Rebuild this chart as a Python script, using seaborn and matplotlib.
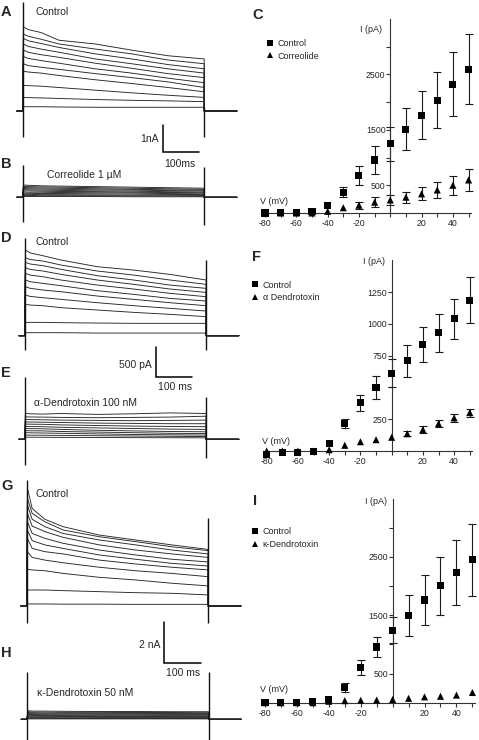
import pandas as pd
import matplotlib.pyplot as plt
import seaborn as sns
from matplotlib.lines import Line2D

W, H = 479, 740

# sample times (ms) of each current sweep during the 500 ms step
t_samples = [2, 15, 50, 100, 200, 300, 400, 500]
pulse_end = 500

# A: control sweeps (nA)
traces_A = [
    [3.15, 3.05, 2.94, 2.65, 2.51, 2.28, 2.07, 1.95],
    [2.88, 2.80, 2.69, 2.51, 2.32, 2.14, 1.91, 1.77],
    [2.72, 2.63, 2.53, 2.38, 2.14, 1.95, 1.74, 1.58],
    [2.51, 2.42, 2.32, 2.20, 1.95, 1.77, 1.58, 1.42],
    [2.28, 2.20, 2.11, 2.01, 1.79, 1.60, 1.40, 1.25],
    [2.04, 1.97, 1.89, 1.79, 1.58, 1.42, 1.23, 1.06],
    [1.77, 1.70, 1.64, 1.56, 1.40, 1.25, 1.09, 0.88],
    [1.49, 1.46, 1.42, 1.33, 1.17, 1.03, 0.88, 0.72],
    [0.96, 0.95, 0.93, 0.88, 0.78, 0.68, 0.59, 0.51],
    [0.51, 0.50, 0.49, 0.47, 0.43, 0.40, 0.38, 0.35],
    [0.16, 0.16, 0.16, 0.15, 0.14, 0.14, 0.14, 0.14],
]
# B: correolide sweeps (nA)
traces_B = [
    [0.46, 0.45, 0.43, 0.42, 0.40, 0.38, 0.36, 0.34],
    [0.41, 0.40, 0.39, 0.38, 0.36, 0.34, 0.32, 0.30],
    [0.37, 0.36, 0.35, 0.34, 0.32, 0.30, 0.28, 0.27],
    [0.33, 0.32, 0.31, 0.30, 0.28, 0.27, 0.25, 0.24],
    [0.29, 0.28, 0.27, 0.26, 0.24, 0.23, 0.21, 0.20],
    [0.24, 0.24, 0.23, 0.22, 0.21, 0.19, 0.18, 0.17],
    [0.20, 0.19, 0.19, 0.18, 0.17, 0.16, 0.14, 0.13],
    [0.15, 0.15, 0.14, 0.14, 0.13, 0.12, 0.11, 0.10],
    [0.11, 0.11, 0.10, 0.10, 0.09, 0.08, 0.08, 0.07],
    [0.07, 0.07, 0.06, 0.06, 0.06, 0.05, 0.05, 0.04],
    [0.03, 0.03, 0.03, 0.03, 0.03, 0.02, 0.02, 0.02],
]
# D: control sweeps (pA)
traces_D = [
    [1428, 1380, 1333, 1261, 1150, 1094, 1022, 928],
    [1300, 1270, 1244, 1178, 1078, 1011, 928, 856],
    [1222, 1195, 1167, 1106, 1000, 928, 844, 789],
    [1133, 1105, 1078, 1022, 928, 856, 778, 722],
    [1039, 1010, 983, 928, 844, 778, 706, 650],
    [928, 900, 872, 833, 750, 689, 622, 578],
    [817, 790, 761, 733, 661, 606, 550, 500],
    [678, 655, 633, 606, 550, 500, 456, 411],
    [522, 511, 500, 467, 428, 389, 356, 317],
    [222, 222, 222, 217, 211, 206, 206, 206],
    [50, 50, 50, 50, 44, 44, 44, 44],
]
# E: alpha-dendrotoxin sweeps (pA)
traces_E = [
    [430, 425, 420, 430, 415, 425, 440, 430],
    [375, 372, 370, 365, 360, 365, 370, 385],
    [330, 328, 325, 320, 315, 310, 315, 320],
    [290, 288, 285, 280, 270, 265, 260, 260],
    [255, 252, 250, 240, 230, 220, 215, 210],
    [215, 212, 210, 200, 190, 180, 170, 165],
    [180, 178, 175, 165, 150, 140, 130, 125],
    [145, 142, 140, 130, 120, 110, 100, 95],
    [110, 108, 105, 100, 90, 80, 75, 70],
    [70, 69, 68, 65, 60, 55, 50, 45],
    [35, 35, 34, 32, 30, 28, 26, 25],
]
# G: control sweeps (nA)
traces_G = [
    [5.74, 4.76, 4.23, 3.87, 3.46, 3.22, 2.98, 2.76],
    [5.25, 4.52, 4.11, 3.71, 3.38, 3.14, 2.89, 2.70],
    [4.93, 4.23, 3.87, 3.54, 3.22, 2.98, 2.73, 2.54],
    [4.52, 3.90, 3.63, 3.35, 2.98, 2.73, 2.54, 2.37],
    [4.11, 3.54, 3.30, 3.06, 2.73, 2.49, 2.28, 2.15],
    [3.71, 3.19, 2.98, 2.81, 2.49, 2.28, 2.08, 1.95],
    [3.30, 2.81, 2.65, 2.54, 2.24, 2.05, 1.89, 1.76],
    [2.65, 2.37, 2.24, 2.11, 1.89, 1.72, 1.59, 1.43],
    [1.79, 1.76, 1.72, 1.59, 1.40, 1.27, 1.11, 0.98],
    [0.78, 0.78, 0.78, 0.75, 0.70, 0.65, 0.62, 0.54],
    [0.10, 0.10, 0.10, 0.09, 0.09, 0.08, 0.08, 0.08],
]
# H: kappa-dendrotoxin sweeps (nA)
traces_H = [
    [0.42, 0.40, 0.40, 0.39, 0.38, 0.38, 0.37, 0.37],
    [0.37, 0.35, 0.35, 0.34, 0.34, 0.33, 0.33, 0.32],
    [0.33, 0.31, 0.30, 0.30, 0.29, 0.29, 0.28, 0.28],
    [0.28, 0.27, 0.26, 0.26, 0.25, 0.25, 0.24, 0.24],
    [0.24, 0.23, 0.22, 0.22, 0.21, 0.21, 0.20, 0.20],
    [0.20, 0.19, 0.18, 0.18, 0.17, 0.17, 0.17, 0.16],
    [0.16, 0.15, 0.15, 0.14, 0.14, 0.14, 0.13, 0.13],
    [0.12, 0.11, 0.11, 0.11, 0.10, 0.10, 0.10, 0.10],
    [0.08, 0.08, 0.08, 0.07, 0.07, 0.07, 0.07, 0.07],
    [0.05, 0.05, 0.05, 0.04, 0.04, 0.04, 0.04, 0.04],
    [0.02, 0.02, 0.02, 0.02, 0.02, 0.02, 0.02, 0.02],
]
# capacitive transients: onset up, onset down, offset up, offset down
spikes_A = [4.08, -0.97, 0.15, -0.97]
spikes_B = [1.21, -0.91, 1.15, -1.04]
spikes_D = [1628, -238, 1262, -238]
spikes_E = [1043, -428, 710, -312]
spikes_G = [6.15, -0.84, 4.29, -0.84]
spikes_H = [2.32, -1.25, 2.32, -1.25]

# I-V relations
iv_v = [-80, -70, -60, -50, -40, -30, -20, -10, 0, 10, 20, 30, 40, 50]
C_ctrl = [0, 10, 15, 25, 130, 375, 675, 955, 1245, 1510, 1765, 2035, 2320, 2590]
C_ctrl_err = [0, 0, 0, 0, 0, 90, 170, 250, 310, 375, 435, 505, 575, 635]
C_cor = [0, 0, 0, 0, 30, 95, 140, 195, 235, 285, 345, 415, 500, 595]
C_cor_err = [0, 0, 0, 0, 0, 0, 60, 85, 95, 100, 115, 140, 170, 200]
F_ctrl = [-25, -15, -12, -3, 58, 215, 378, 500, 611, 711, 839, 931, 1041, 1186]
F_ctrl_err = [0, 0, 0, 0, 0, 37, 65, 93, 110, 126, 139, 150, 157, 183]
F_dtx = [0, 0, 0, 0, 10, 45, 73, 89, 108, 136, 168, 215, 260, 302]
F_dtx_err = [0, 0, 0, 0, 0, 0, 0, 0, 0, 20, 25, 25, 34, 31]
I_ctrl = [0, 0, 5, 25, 55, 260, 610, 955, 1245, 1495, 1760, 2005, 2230, 2450]
I_ctrl_err = [0, 0, 0, 0, 0, 70, 130, 175, 230, 350, 430, 500, 560, 620]
I_ktx = [0, 0, 0, 0, 25, 35, 40, 45, 55, 75, 100, 110, 130, 175]
I_ktx_err = [0, 0, 0, 0, 0, 0, 0, 0, 0, 0, 0, 0, 0, 0]

sns.set_style("white")
plt.rcParams['font.family'] = ['Liberation Sans', 'DejaVu Sans']
plt.rcParams['axes.unicode_minus'] = False

fig = plt.figure(figsize=(W / 100, H / 100), dpi=100)
MS_PX = 0.363  # pixels per ms
TRACE_COLOR = '#262626'


def px_axes(left, top, right, bottom):
    return fig.add_axes([left / W, 1 - bottom / H, (right - left) / W, (bottom - top) / H])


def ftext(x, y, s, size=7.5, ha='left', weight='normal'):
    fig.text(x / W, 1 - y / H, s, fontsize=size, ha=ha, va='center', weight=weight)


def trace_panel(top, bottom, base, t0, ppu, sweeps, spikes):
    ax = px_axes(0, top, 245, bottom)
    rows = []
    for k, vals in enumerate(sweeps):
        pts = [(-16, 0), (0, 0)] + list(zip(t_samples, vals)) + [(pulse_end, 0), (590, 0)]
        for t, v in pts:
            rows.append({'t': t, 'I': v, 'sweep': k})
    df = pd.DataFrame(rows)
    sns.lineplot(data=df, x='t', y='I', units='sweep', estimator=None, sort=False,
                 color=TRACE_COLOR, lw=0.65, ax=ax, legend=False)
    on_up, on_dn, off_up, off_dn = spikes
    ax.vlines([0], on_dn, on_up, color='#111111', lw=1.0)
    ax.vlines([pulse_end], off_dn, off_up, color='#111111', lw=1.0)
    ax.set_xlim(-t0 / MS_PX, (245 - t0) / MS_PX)
    ax.set_ylim((base - bottom) / ppu, (base - top) / ppu)
    ax.axis('off')
    return ax, (t0, base, ppu)


def scale_bar(ax, mapping, corner, dy):
    t0, base, ppu = mapping
    t = (corner[0] - t0) / MS_PX
    v = (base - corner[1]) / ppu
    ax.plot([t, t, t + 100], [v + dy, v, v], color='black', lw=1.1,
            clip_on=False, solid_joinstyle='miter')


ax_A, map_A = trace_panel(0, 150, 111, 22.7, 26.7, traces_A, spikes_A)
ax_B, _ = trace_panel(150, 235, 197.3, 22.7, 26.7, traces_B, spikes_B)
ax_D, map_D = trace_panel(235, 360, 335.7, 24.7, 0.06, traces_D, spikes_D)
ax_E, _ = trace_panel(360, 470, 439.3, 24.7, 0.06, traces_E, spikes_E)
ax_G, map_G = trace_panel(470, 640, 606, 26.7, 20.5, traces_G, spikes_G)
ax_H, _ = trace_panel(640, 740, 719.3, 27.0, 20.5, traces_H, spikes_H)

scale_bar(ax_A, map_A, (163, 152), 1.0)
scale_bar(ax_D, map_D, (155.7, 376.7), 500)
scale_bar(ax_G, map_G, (164.3, 662.7), 2.0)

ftext(159, 139, '1nA', ha='right')
ftext(180, 164, '100ms', ha='center')
ftext(152, 365, '500 pA', ha='right')
ftext(175, 387, '100 ms', ha='center')
ftext(160, 645, '2 nA', ha='right')
ftext(183, 673, '100 ms', ha='center')

ftext(35, 12, 'Control')
ftext(47, 175, 'Correolide 1 µM')
ftext(35, 242, 'Control')
ftext(34, 403, 'α-Dendrotoxin 100 nM')
ftext(36, 494, 'Control')
ftext(37, 693, 'κ-Dendrotoxin 50 nM')


def iv_panel(box, ymax, ctrl, ctrl_err, drug, drug_err, drug_name,
             y_major, y_minor, legend_px):
    left, top, right, bottom = box
    ax = px_axes(left, top, right, bottom)
    ax.patch.set_visible(False)
    df = pd.DataFrame({
        'V': iv_v + iv_v,
        'I': ctrl + drug,
        'err': ctrl_err + drug_err,
        'cond': ['Control'] * len(iv_v) + [drug_name] * len(iv_v),
    })
    bars = df[df['err'] > 0]
    ax.errorbar(bars['V'], bars['I'], yerr=bars['err'], fmt='none', ecolor='#1a1a1a',
                elinewidth=0.8, capsize=2.8, capthick=0.8, clip_on=False, zorder=2)
    sns.scatterplot(data=df, x='V', y='I', style='cond', markers=['s', '^'],
                    color='black', s=26, linewidth=0, ax=ax, clip_on=False, zorder=3,
                    legend=False)
    handles = [Line2D([], [], ls='none', marker='s', color='black', markersize=4.6, mew=0),
               Line2D([], [], ls='none', marker='^', color='black', markersize=5.0, mew=0)]
    ax.legend(handles, ['Control', drug_name], loc='upper left',
              bbox_to_anchor=(legend_px[0] / W, 1 - legend_px[1] / H),
              bbox_transform=fig.transFigure, frameon=False, fontsize=6.5,
              handlelength=0.8, handletextpad=0.5, borderpad=0, borderaxespad=0,
              labelspacing=0.35)
    ax.set_xlim(-82.5, 51.5)
    ax.set_ylim(0, ymax)
    ax.set_xlabel('')
    ax.set_ylabel('')
    for side in ('top', 'right'):
        ax.spines[side].set_visible(False)
    ax.spines['left'].set_position(('data', 0))
    ax.spines['bottom'].set_position(('data', 0))
    for side in ('left', 'bottom'):
        ax.spines[side].set_linewidth(0.8)
        ax.spines[side].set_color('#333333')
    ax.set_xticks([-80, -60, -40, -20, 20, 40])
    ax.set_xticks(iv_v, minor=True)
    ax.set_yticks(y_major)
    ax.set_yticks(y_minor, minor=True)
    ax.tick_params(which='both', direction='out', length=3, width=0.8, color='#333333',
                   labelsize=6.3, bottom=True, left=True)
    ax.tick_params(axis='x', pad=1.5)
    ax.tick_params(axis='y', pad=0.5)
    return ax


iv_panel((261.1, 18.75, 470.9, 213), 3500, C_ctrl, C_ctrl_err, C_cor, C_cor_err,
         'Correolide', [500, 1500, 2500], [1000, 2000, 3000], (266, 39.5))
iv_panel((262.8, 260.3, 472.1, 451), 1500, F_ctrl, F_ctrl_err, F_dtx, F_dtx_err,
         'α Dendrotoxin', [250, 750, 1000, 1250], [500], (251, 280.5))
iv_panel((261.0, 498.5, 474.8, 702.7), 3500, I_ctrl, I_ctrl_err, I_ktx, I_ktx_err,
         'κ-Dendrotoxin', [500, 1500, 2500], [1000, 2000, 3000], (251, 527.5))

for x, y in [(260, 202), (262, 441), (260, 690)]:
    ftext(x, y, 'V (mV)', size=6.5)
for x, y in [(360, 29), (363, 262), (365, 502)]:
    ftext(x, y, 'I (pA)', size=6.5)

for letter, x, y in [('A', 1, 12), ('B', 1, 164), ('C', 252, 15), ('D', 1, 238),
                     ('E', 1, 373), ('F', 252, 257), ('G', 1, 486), ('H', 1, 653),
                     ('I', 253, 501)]:
    ftext(x, y, letter, size=10.5, weight='bold')

fig.savefig('out.png', dpi=100)
